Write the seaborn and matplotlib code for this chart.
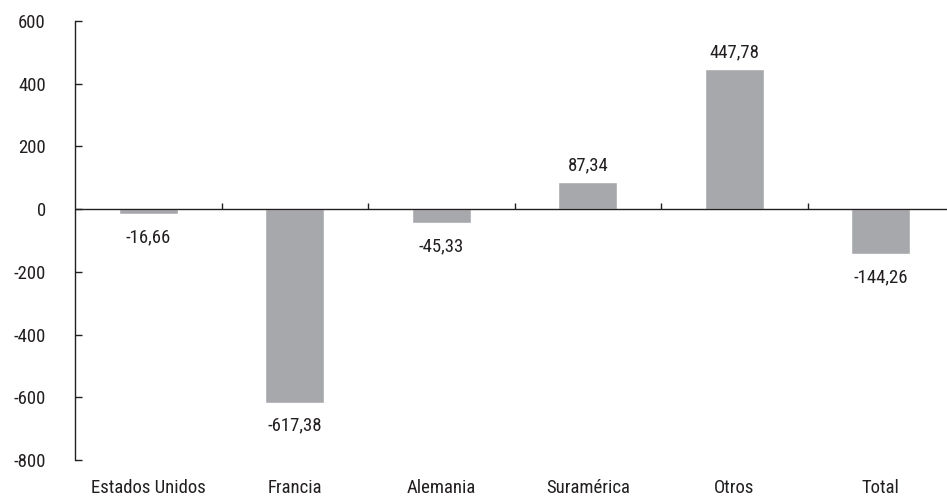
import matplotlib
matplotlib.use("Agg")
import matplotlib.pyplot as plt
import seaborn as sns
import pandas as pd

# Data
categories = ["Estados Unidos", "Francia", "Alemania", "Suramérica", "Otros", "Total"]
values = [-16.66, -617.38, -45.33, 87.34, 447.78, -144.26]
y_ticks = [-800, -600, -400, -200, 0, 200, 400, 600]

bar_color = "#a7a8ab"
text_color = "#231f20"
fs = 13.5

sns.set_style("white")
plt.rcParams["font.family"] = ["Liberation Sans Narrow", "DejaVu Sans Condensed",
                               "Roboto Condensed", "Liberation Sans", "DejaVu Sans"]

df = pd.DataFrame({"categoria": categories, "valor": values})

fig = plt.figure(figsize=(9.47, 5.0), dpi=100)
ax = fig.add_axes([0.0792, 0.08, 0.9208, 0.878])

sns.barplot(data=df, x="categoria", y="valor", color=bar_color, saturation=1,
            width=0.4, ax=ax)

ax.set_xlim(-0.5, 5.452)
ax.set_ylim(-800, 600)
ax.set_yticks(y_ticks)
ax.set_yticklabels([str(t) for t in y_ticks], fontsize=fs, color=text_color)
ax.tick_params(axis="y", left=True, direction="in", length=5, width=1,
               color=text_color, pad=21)
ax.tick_params(axis="x", bottom=False, length=0, pad=14, labelsize=fs,
               labelcolor=text_color)

ax.set_xlabel("")
ax.set_ylabel("")

for side in ["top", "right", "bottom"]:
    ax.spines[side].set_visible(False)
ax.spines["left"].set_color(text_color)
ax.spines["left"].set_linewidth(1)

# zero line with separators between categories
ax.axhline(0, color=text_color, lw=1, zorder=3)
ax.vlines([i + 0.5 for i in range(len(categories) - 1)], 0, 20,
          color=text_color, lw=1, zorder=3)

# value labels
for i, v in enumerate(values):
    txt = f"{v:.2f}".replace(".", ",")
    if v >= 0:
        ax.annotate(txt, (i, v), xytext=(0, 5), textcoords="offset points",
                    ha="center", va="bottom", fontsize=fs, color=text_color)
    else:
        ax.annotate(txt, (i, v), xytext=(0, -10), textcoords="offset points",
                    ha="center", va="top", fontsize=fs, color=text_color)

fig.savefig("out.png", dpi=100)
